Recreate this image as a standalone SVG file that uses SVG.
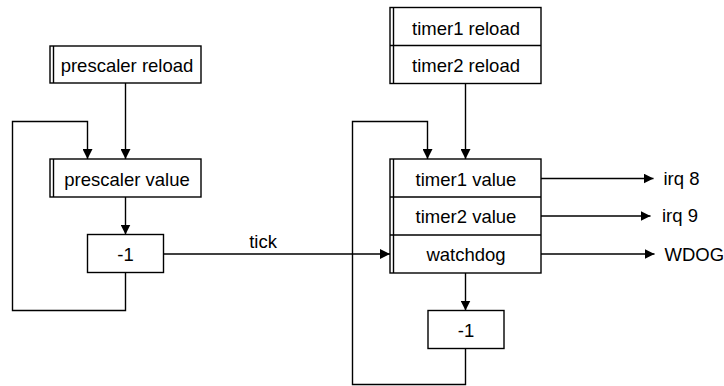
<svg xmlns="http://www.w3.org/2000/svg" width="724" height="386" viewBox="0 0 724 386">
<defs>
<marker id="arr" markerUnits="userSpaceOnUse" markerWidth="10" markerHeight="10" refX="10" refY="5" orient="auto">
<path d="M0,0 L10,5 L0,10 z" fill="#000"/>
</marker>
<style>
.box{fill:#fff;stroke:#000;stroke-width:1.4}
.ln{fill:none;stroke:#000;stroke-width:1.4}
.ar{fill:none;stroke:#000;stroke-width:1.4;marker-end:url(#arr)}
text{font-family:"Liberation Sans",Arial,sans-serif;font-size:18.5px;fill:#000}
.c{text-anchor:middle}
</style>
</defs>
<rect width="724" height="386" fill="#fff"/>
<g id="connectors">
<path class="ar" d="M125.5,83 V159"/>
<path class="ar" d="M125.5,272.5 V310.5 H12.5 V121.5 H87.5 V159"/>
<path class="ar" d="M125.5,197 V234.5"/>
<path class="ar" d="M163.5,254 H390"/>
<text class="c" x="263" y="247.5">tick</text>
<path class="ar" d="M465.5,83.5 V159"/>
<path class="ar" d="M465.5,273 V310.5"/>
<path class="ar" d="M465.5,348.5 V384.5 H352.5 V121.5 H427.5 V159"/>
<path class="ar" d="M541,178.5 H653.5"/>
<path class="ar" d="M541,216 H650.5"/>
<path class="ar" d="M541,254 H654.5"/>
</g>
<g id="prescaler-reload">
<rect class="box" x="50" y="46" width="151" height="37"/>
<line class="ln" x1="53.5" y1="46" x2="53.5" y2="83"/>
<text class="c" x="127" y="71.5">prescaler reload</text>
</g>
<g id="prescaler-value">
<rect class="box" x="50" y="159" width="151" height="38"/>
<line class="ln" x1="53.5" y1="159" x2="53.5" y2="197"/>
<text class="c" x="127" y="185.5">prescaler value</text>
</g>
<g id="dec-left">
<rect class="box" x="87.5" y="234.5" width="76" height="38"/>
<text class="c" x="125.5" y="260.5">-1</text>
</g>
<g id="timer-reload">
<rect class="box" x="390" y="7.5" width="151" height="76"/>
<line class="ln" x1="393.5" y1="7.5" x2="393.5" y2="83.5"/>
<line class="ln" x1="390" y1="45.5" x2="541" y2="45.5"/>
<text class="c" x="466" y="34.5">timer1 reload</text>
<text class="c" x="466" y="71.5">timer2 reload</text>
</g>
<g id="timer-value">
<rect class="box" x="390" y="159" width="151" height="114"/>
<line class="ln" x1="393.5" y1="159" x2="393.5" y2="273"/>
<line class="ln" x1="390" y1="197" x2="541" y2="197"/>
<line class="ln" x1="390" y1="235" x2="541" y2="235"/>
<text class="c" x="466" y="185.5">timer1 value</text>
<text class="c" x="466" y="223">timer2 value</text>
<text class="c" x="466" y="261">watchdog</text>
</g>
<g id="dec-right">
<rect class="box" x="428" y="310.5" width="76" height="38"/>
<text class="c" x="466" y="336.5">-1</text>
</g>
<g id="outputs">
<text x="663.5" y="185">irq 8</text>
<text x="662" y="222">irq 9</text>
<text x="664.5" y="261">WDOG</text>
</g>
</svg>
